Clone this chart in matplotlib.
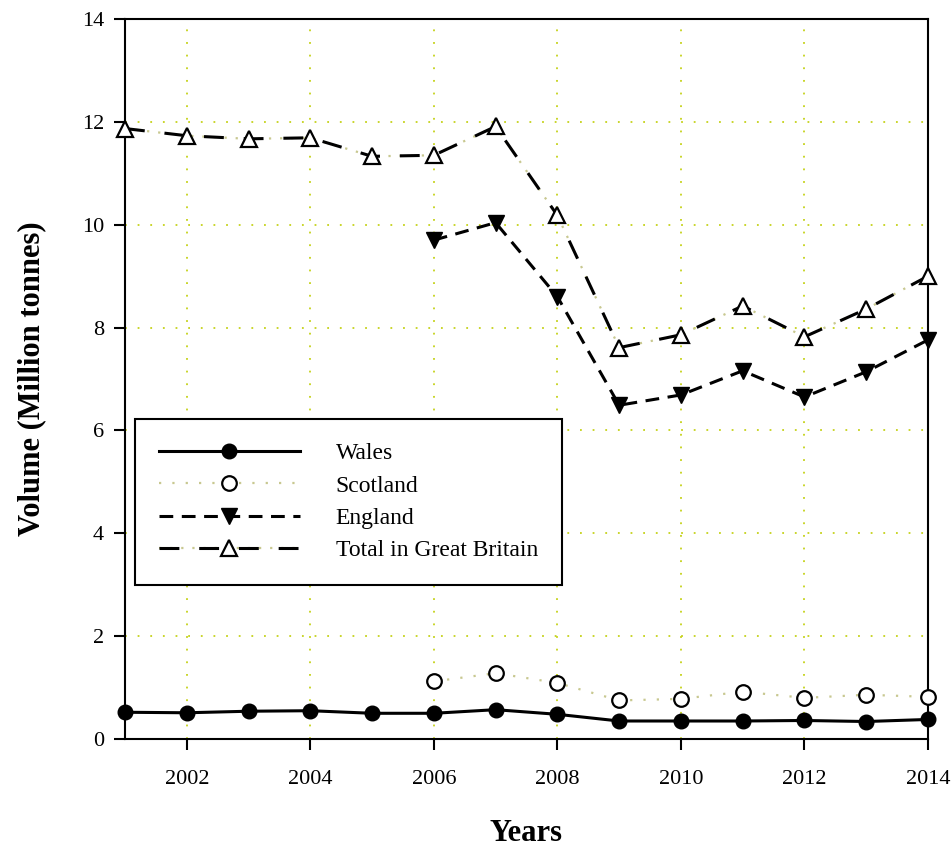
import matplotlib
matplotlib.use("Agg")
import matplotlib.pyplot as plt
from matplotlib.legend_handler import HandlerTuple

plt.rcParams['font.family'] = ['Liberation Serif', 'DejaVu Serif']

years_all = [2001, 2002, 2003, 2004, 2005, 2006, 2007, 2008, 2009, 2010, 2011, 2012, 2013, 2014]
years_sub = [2006, 2007, 2008, 2009, 2010, 2011, 2012, 2013, 2014]

wales = [0.52, 0.51, 0.54, 0.55, 0.50, 0.50, 0.57, 0.48, 0.35, 0.35, 0.35, 0.36, 0.34, 0.38]
scotland = [1.12, 1.28, 1.09, 0.75, 0.78, 0.92, 0.80, 0.86, 0.82]
england = [9.70, 10.04, 8.60, 6.49, 6.69, 7.16, 6.65, 7.14, 7.76]
total = [11.87, 11.73, 11.67, 11.69, 11.33, 11.35, 11.91, 10.18, 7.61, 7.86, 8.42, 7.82, 8.36, 9.00]

xticks = [2002, 2004, 2006, 2008, 2010, 2012, 2014]
yticks = [0, 2, 4, 6, 8, 10, 12, 14]

fig = plt.figure(figsize=(9.53, 8.48), dpi=100)
ax = fig.add_axes([125/953, 1-739/848, (928-125)/953, (739-19)/848])

grid_col = '#c5d21a'
ax.set_xlim(2001, 2014)
ax.set_ylim(0, 14)
ax.set_xticks(xticks)
ax.set_yticks(yticks)
ax.grid(True, color=grid_col, linestyle=(0, (1, 6)), linewidth=1.3)
ax.set_axisbelow(True)

lw = 2.2
# Wales
h_w, = ax.plot(years_all, wales, color='black', lw=lw, marker='o', markersize=10.5,
               markerfacecolor='black', markeredgecolor='black', clip_on=False, zorder=4)
# Scotland
h_s_line, = ax.plot(years_sub, scotland, color='#c8c890', lw=1.6, linestyle=(0, (1, 5)),
                    zorder=3)
h_s_mark, = ax.plot(years_sub, scotland, linestyle='none', marker='o', markersize=10.5,
                    markerfacecolor='white', markeredgecolor='black', markeredgewidth=1.6,
                    clip_on=False, zorder=4)
# England
h_e, = ax.plot(years_sub, england, color='black', lw=lw, linestyle=(0, (4.5, 2.8)),
               marker='v', markersize=11, markerfacecolor='black', markeredgecolor='black',
               clip_on=False, zorder=4)
# Total
h_t_dot, = ax.plot(years_all, total, color='#c8c890', lw=1.6, linestyle=(0, (1, 4)), zorder=3)
h_t, = ax.plot(years_all, total, color='black', lw=lw, linestyle=(0, (6.5, 6.5)),
               marker='^', markersize=11, markerfacecolor='white', markeredgecolor='black',
               markeredgewidth=1.6, clip_on=False, zorder=4)

for s in ax.spines.values():
    s.set_linewidth(1.5)
    s.set_color('black')

ax.tick_params(axis='both', direction='out', length=8, width=1.5, labelsize=16)
ax.tick_params(axis='x', pad=14)
ax.tick_params(axis='y', pad=7)

ax.set_xlabel('Years', fontsize=22, fontweight='bold', labelpad=22)
ax.set_ylabel('Volume (Million tonnes)', fontsize=22, fontweight='bold', labelpad=26)

leg = ax.legend([h_w, (h_s_line, h_s_mark), h_e, (h_t_dot, h_t)],
                ['Wales', 'Scotland', 'England', 'Total in Great Britain'],
                handler_map={tuple: HandlerTuple(ndivide=1)},
                loc='upper left', bbox_to_anchor=(0.0125, 0.444), borderaxespad=0,
                fontsize=17, handlelength=6.0, handletextpad=1.5, borderpad=1.0,
                labelspacing=0.45, fancybox=False, framealpha=1, edgecolor='black')
leg.get_frame().set_linewidth(1.5)

fig.savefig('out.png', dpi=100)
